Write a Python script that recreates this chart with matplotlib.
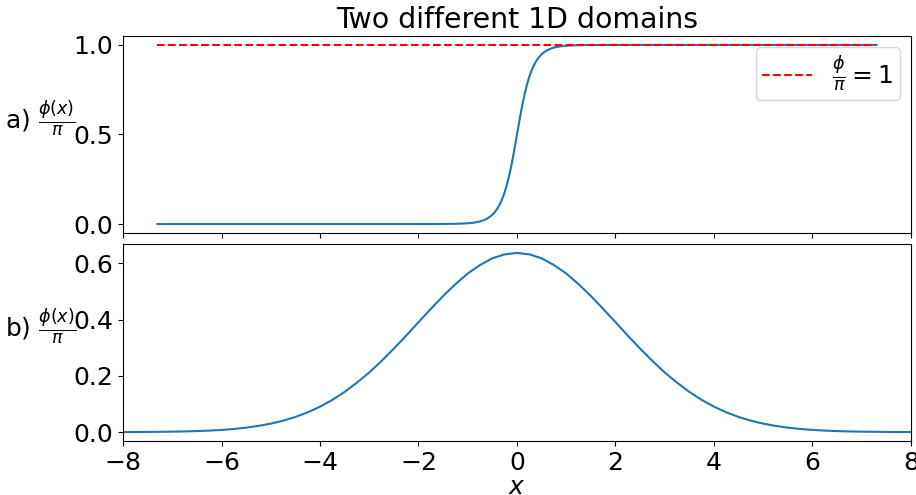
import matplotlib
matplotlib.use("Agg")
import matplotlib.pyplot as plt
from matplotlib.ticker import MultipleLocator

# Domain wall (kink) profile, phi/pi
x_kink = [-7.3, -4.0, -3.0, -2.0, -1.5, -1.2, -1.0, -0.95, -0.9, -0.85, -0.8,
          -0.75, -0.7, -0.65, -0.6, -0.55, -0.5, -0.45, -0.4, -0.35, -0.3,
          -0.25, -0.2, -0.15, -0.1, -0.05, 0.0, 0.05, 0.1, 0.15, 0.2, 0.25,
          0.3, 0.35, 0.4, 0.45, 0.5, 0.55, 0.6, 0.65, 0.7, 0.75, 0.8, 0.85,
          0.9, 0.95, 1.0, 1.2, 1.5, 2.0, 3.0, 4.0, 7.3]
phi_kink = [0.0, 0.0, 0.0, 0.0, 0.0003, 0.0016, 0.0043, 0.0055, 0.0071, 0.0091,
            0.0117, 0.0150, 0.0192, 0.0247, 0.0317, 0.0406, 0.0521, 0.0669,
            0.0856, 0.1096, 0.1398, 0.1776, 0.2244, 0.2808, 0.3469, 0.4213,
            0.5, 0.5787, 0.6531, 0.7192, 0.7756, 0.8224, 0.8602, 0.8904,
            0.9144, 0.9331, 0.9479, 0.9594, 0.9683, 0.9753, 0.9808, 0.9850,
            0.9883, 0.9909, 0.9929, 0.9945, 0.9957, 0.9984, 0.9997, 1.0, 1.0,
            1.0, 1.0]

# Localised bump profile, phi/pi
x_bump = [-8.0, -7.75, -7.5, -7.25, -7.0, -6.75, -6.5, -6.25, -6.0, -5.75,
          -5.5, -5.25, -5.0, -4.75, -4.5, -4.25, -4.0, -3.75, -3.5, -3.25,
          -3.0, -2.75, -2.5, -2.25, -2.0, -1.75, -1.5, -1.25, -1.0, -0.75,
          -0.5, -0.25, 0.0, 0.25, 0.5, 0.75, 1.0, 1.25, 1.5, 1.75, 2.0, 2.25,
          2.5, 2.75, 3.0, 3.25, 3.5, 3.75, 4.0, 4.25, 4.5, 4.75, 5.0, 5.25,
          5.5, 5.75, 6.0, 6.25, 6.5, 6.75, 7.0, 7.25, 7.5, 7.75, 8.0]
phi_bump = [0.0003, 0.0004, 0.0007, 0.0011, 0.0016, 0.0025, 0.0037, 0.0054,
            0.0079, 0.0113, 0.0159, 0.0221, 0.0302, 0.0406, 0.0539, 0.0704,
            0.0905, 0.1146, 0.143, 0.176, 0.212, 0.253, 0.297, 0.343, 0.391,
            0.438, 0.484, 0.526, 0.564, 0.594, 0.618, 0.632, 0.637, 0.632,
            0.618, 0.594, 0.564, 0.526, 0.484, 0.438, 0.391, 0.343, 0.297,
            0.253, 0.212, 0.176, 0.143, 0.1146, 0.0905, 0.0704, 0.0539, 0.0406,
            0.0302, 0.0221, 0.0159, 0.0113, 0.0079, 0.0054, 0.0037, 0.0025,
            0.0016, 0.0011, 0.0007, 0.0004, 0.0003]

# Reference level phi/pi = 1 across the kink domain
x_ref = [-7.3, 7.3]
phi_ref = [1.0, 1.0]

FS = 18
plt.rcParams["font.size"] = FS

fig = plt.figure(figsize=(9.16, 4.95), dpi=100)
ax1 = fig.add_axes([0.1343, 0.5293, 0.8602, 0.3980])
ax2 = fig.add_axes([0.1343, 0.1091, 0.8602, 0.3980], sharex=ax1)

ax1.plot(x_kink, phi_kink, color="C0")
ax1.plot(x_ref, phi_ref, "--", color="red", label=r"$\frac{\phi}{\pi} = 1$")
ax1.legend(loc="upper right", fontsize=FS, borderpad=0.25, borderaxespad=0.45)
ax1.set_title("Two different 1D domains", fontsize=20.4)
ax1.set_ylabel(r"a) $\frac{\phi(x)}{\pi}$", rotation=0, ha="right", fontsize=FS)
ax1.yaxis.set_label_coords(-0.06, 0.48)
ax1.tick_params(labelbottom=False, labelsize=FS)

ax2.plot(x_bump, phi_bump, color="C0")
ax2.set_ylabel(r"b) $\frac{\phi(x)}{\pi}$", rotation=0, ha="right", fontsize=FS)
ax2.yaxis.set_label_coords(-0.06, 0.48)
ax2.set_xlabel(r"$x$", fontsize=FS, labelpad=0)
ax2.set_xlim(-8, 8)
ax2.set_xticks([-8, -6, -4, -2, 0, 2, 4, 6, 8])
ax2.yaxis.set_major_locator(MultipleLocator(0.2))
ax2.tick_params(labelsize=FS)

fig.savefig("out.png", dpi=100)
